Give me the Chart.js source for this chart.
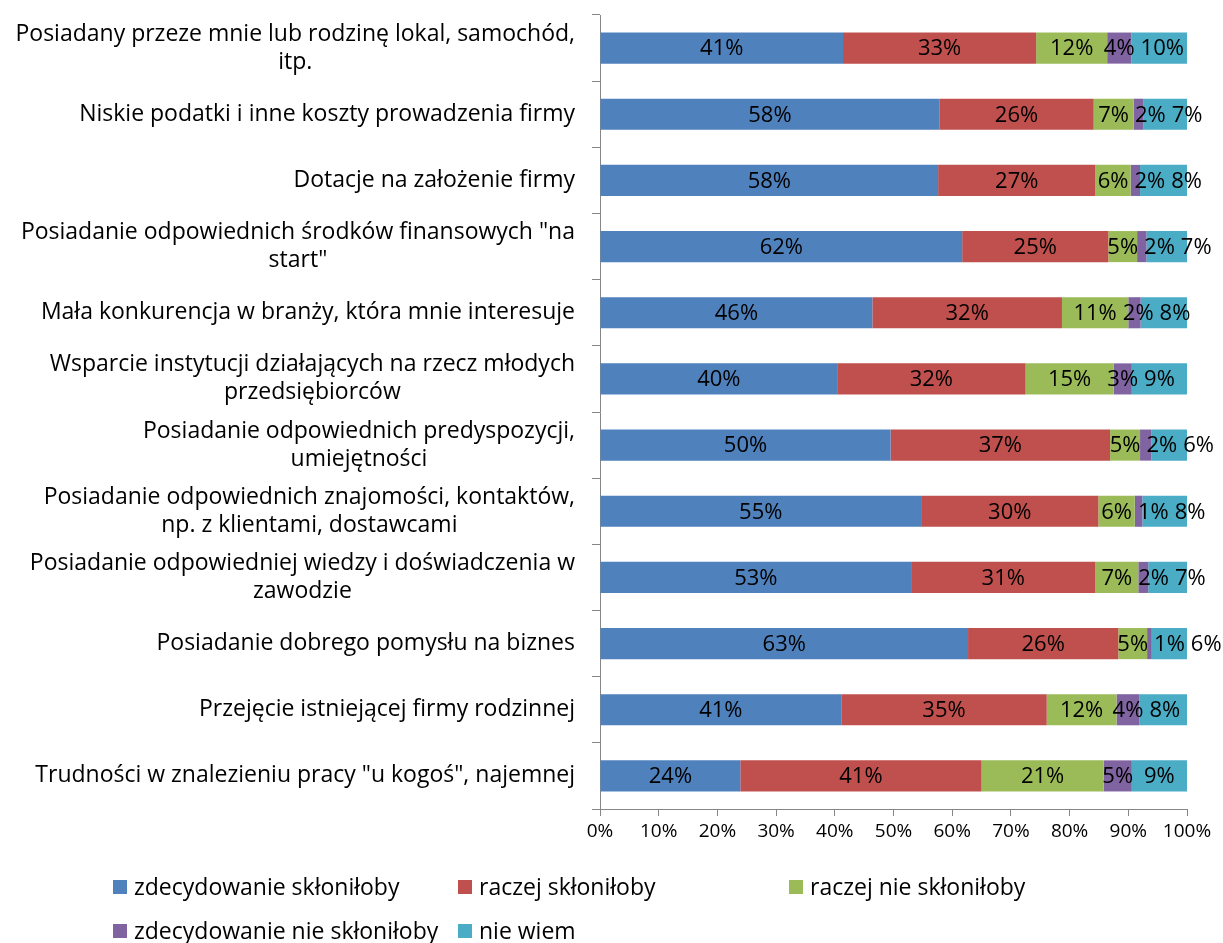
<!DOCTYPE html>
<html lang="pl">
<head>
    <meta charset="UTF-8">
    <title>Czynniki skłaniające do założenia firmy</title>
    <script src="https://cdn.jsdelivr.net/npm/chart.js"></script>
    <style>
        body { margin: 0; background: #fff; font-family: "Open Sans", sans-serif; }
        #wrap { position: relative; width: 1223px; height: 943px; }
        #legend { position: absolute; left: 0; top: 0; width: 1223px; height: 943px; pointer-events: none; }
        .item { position: absolute; font-size: 23px; color: #000; white-space: nowrap; line-height: 28px; }
        .item span.box { display: inline-block; width: 14px; height: 14px; margin-right: 7px; vertical-align: 1px; }
    </style>
</head>
<body>
<div id="wrap">
    <canvas id="chart" width="1223" height="943"></canvas>
    <div id="legend"></div>
</div>

<script>
    // kategorie (od góry)
    var categories = [
        ["Posiadany przeze mnie lub rodzinę lokal, samochód,", "itp."],
        ["Niskie podatki i inne koszty prowadzenia firmy"],
        ["Dotacje na założenie firmy"],
        ["Posiadanie odpowiednich środków finansowych \"na", "start\""],
        ["Mała konkurencja w branży, która mnie interesuje"],
        ["Wsparcie instytucji działających na rzecz młodych", "przedsiębiorców"],
        ["Posiadanie odpowiednich predyspozycji,", "umiejętności"],
        ["Posiadanie odpowiednich znajomości, kontaktów,", "np. z klientami, dostawcami"],
        ["Posiadanie odpowiedniej wiedzy i doświadczenia w", "zawodzie"],
        ["Posiadanie dobrego pomysłu na biznes"],
        ["Przejęcie istniejącej firmy rodzinnej"],
        ["Trudności w znalezieniu pracy \"u kogoś\", najemnej"]
    ];

    var seriesNames = ["zdecydowanie skłoniłoby", "raczej skłoniłoby", "raczej nie skłoniłoby",
                       "zdecydowanie nie skłoniłoby", "nie wiem"];
    var seriesColors = ["#4F81BD", "#C0504D", "#9BBB59", "#8064A2", "#4BACC6"];

    // wartości w %
    var zdecydowanieTak = [41.4, 57.8, 57.6, 61.7, 46.4, 40.4, 49.5, 54.7, 53.0, 62.7, 41.1, 23.9];
    var raczejTak       = [32.9, 26.3, 26.8, 24.9, 32.3, 32.1, 37.4, 30.2, 31.4, 25.6, 35.0, 41.1];
    var raczejNie       = [12.1, 6.8, 6.0, 4.9, 11.3, 15.0, 5.1, 6.2, 7.3, 4.9, 11.9, 20.8];
    var zdecydowanieNie = [4.1, 1.7, 1.6, 1.6, 2.1, 3.1, 1.9, 1.3, 1.7, 0.8, 3.9, 4.8];
    var nieWiem         = [9.5, 7.4, 8.0, 6.9, 7.9, 9.4, 6.1, 7.6, 6.6, 6.0, 8.1, 9.4];

    var xTicks = [0, 10, 20, 30, 40, 50, 60, 70, 80, 90, 100];

    var allValues = [zdecydowanieTak, raczejTak, raczejNie, zdecydowanieNie, nieWiem];
    var datasets = allValues.map(function(vals, i) {
        return {
            label: seriesNames[i],
            data: vals,
            backgroundColor: seriesColors[i],
            borderWidth: 0,
            barPercentage: 0.47,
            categoryPercentage: 1
        };
    });

    var FONT = '"Open Sans", sans-serif';

    // etykiety kategorii: blok wyrównany do prawej, linie wyśrodkowane
    var categoryLabels = {
        id: 'categoryLabels',
        afterDraw: function(chart) {
            var ctx = chart.ctx;
            var y = chart.scales.y;
            ctx.save();
            ctx.font = '23px ' + FONT;
            ctx.fillStyle = '#000';
            ctx.textAlign = 'center';
            ctx.textBaseline = 'middle';
            var right = 575, lh = 28;
            categories.forEach(function(lines, i) {
                var w = 0;
                lines.forEach(function(l) { w = Math.max(w, ctx.measureText(l).width); });
                var cx = right - w / 2;
                var cy = y.getPixelForValue(i) - (lines.length - 1) * lh / 2;
                lines.forEach(function(l, k) { ctx.fillText(l, cx, cy + k * lh); });
            });
            ctx.restore();
        }
    };

    // etykiety danych w środku segmentów, przesuwane w prawo gdy nachodzą na siebie
    var dataLabels = {
        id: 'dataLabels',
        afterDatasetsDraw: function(chart) {
            var ctx = chart.ctx;
            var gap = 6;
            ctx.save();
            ctx.font = '22px ' + FONT;
            ctx.fillStyle = '#000';
            ctx.textAlign = 'left';
            ctx.textBaseline = 'middle';
            categories.forEach(function(c, i) {
                var lastRight = -Infinity;
                chart.data.datasets.forEach(function(ds, di) {
                    var el = chart.getDatasetMeta(di).data[i];
                    var txt = Math.round(ds.data[i]) + '%';
                    var w = ctx.measureText(txt).width;
                    var left = (el.x + el.base) / 2 - w / 2;
                    if (left < lastRight + gap) left = lastRight + gap;
                    ctx.fillText(txt, left, el.y + 1);
                    lastRight = left + w;
                });
            });
            ctx.restore();
        }
    };

    new Chart(document.getElementById('chart'), {
        type: 'bar',
        data: { labels: categories.map(function(c) { return c.join(' '); }), datasets: datasets },
        plugins: [categoryLabels, dataLabels],
        options: {
            indexAxis: 'y',
            responsive: false,
            animation: false,
            layout: { padding: { left: 0, right: 36, top: 15, bottom: 94 } },
            plugins: { legend: { display: false }, tooltip: { enabled: false } },
            scales: {
                x: {
                    stacked: true,
                    min: 0,
                    max: 100,
                    afterBuildTicks: function(scale) {
                        scale.ticks = xTicks.map(function(v) { return { value: v }; });
                    },
                    afterFit: function(scale) { scale.height = 40; },
                    ticks: {
                        color: '#000',
                        padding: 4,
                        font: { family: FONT, size: 19 },
                        callback: function(v) { return v + '%'; }
                    },
                    grid: { drawOnChartArea: false, tickLength: 7, color: '#868686' },
                    border: { color: '#868686' }
                },
                y: {
                    stacked: true,
                    afterFit: function(scale) { scale.width = 600; },
                    ticks: { display: false },
                    grid: { drawOnChartArea: false, tickLength: 8, color: '#868686', offset: true },
                    border: { color: '#868686' }
                }
            }
        }
    });

    // legenda w dwóch wierszach, jak w oryginale
    var legendPos = [[113, 872], [458, 872], [789, 872], [113, 916], [458, 916]];
    var legend = document.getElementById('legend');
    seriesNames.forEach(function(name, i) {
        var d = document.createElement('div');
        d.className = 'item';
        d.style.left = legendPos[i][0] + 'px';
        d.style.top = legendPos[i][1] + 'px';
        d.innerHTML = '<span class="box" style="background:' + seriesColors[i] + '"></span>' + name;
        legend.appendChild(d);
    });
</script>
</body>
</html>
